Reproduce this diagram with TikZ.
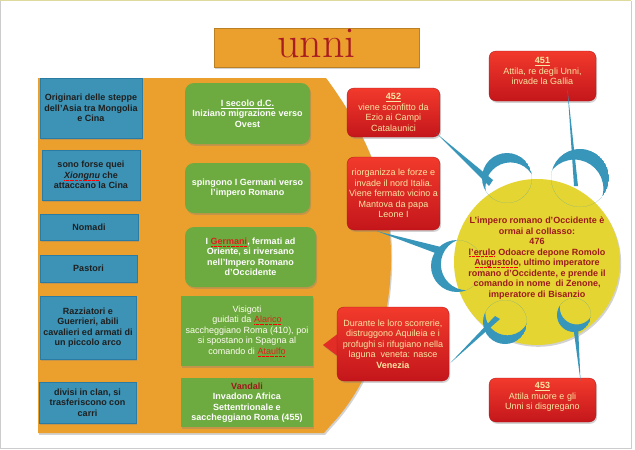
\documentclass[tikz,border=0pt]{standalone}
\usepackage{fontspec}
\newfontfamily\sansf{Liberation Sans}
\usetikzlibrary{shadows,calc}
\definecolor{orangeF}{HTML}{EBA02D}
\definecolor{blueF}{HTML}{3C93B5}
\definecolor{blueD}{HTML}{2A7CA5}
\definecolor{greenF}{HTML}{6DAA3F}
\definecolor{redT}{HTML}{F23A2C}
\definecolor{redB}{HTML}{C4161B}
\definecolor{redText}{HTML}{F8E7A2}
\definecolor{yellowF}{HTML}{E5D532}
\definecolor{tealC}{HTML}{3796B9}
\definecolor{titleRed}{HTML}{A81C22}
\definecolor{wordRed}{HTML}{D8231F}
\definecolor{darkRed}{HTML}{9C1A1C}
\newsavebox\sqbox
\newcommand\sq[1]{\sbox\sqbox{#1}\rlap{\textcolor{red}{\raisebox{-2pt}{\hbox to \wd\sqbox{\leaders\hbox to 1.3pt{\hss\rule{0.7pt}{0.7pt}\hss}\hfill}}}}\usebox\sqbox}
\newcommand\crescent[5]{\begin{scope}\clip (#1) circle (#2);\fill[tealC,even odd rule] (#1) circle (#2) ($(#1)+(#3:#5)$) circle (#4);\end{scope}}
\begin{document}
\begin{tikzpicture}[x=1pt,y=1pt,
 shad/.style={drop shadow={opacity=0.35,shadow xshift=1.2pt,shadow yshift=-1.8pt}},
 bluebox/.style={shad, draw=blueD, line width=0.5pt, fill=blueF, align=center, inner sep=0pt, font=\sansf\bfseries\fontsize{9}{10.5}\selectfont, text=black!88},
 greenbox/.style={shad, fill=greenF, align=center, inner sep=0pt, font=\sansf\bfseries\fontsize{9}{10.5}\selectfont, text=white},
 redbox/.style={shad, top color=redT, bottom color=redB, draw=redB!90!black, line width=0.3pt, rounded corners=7pt, align=center, inner sep=0pt, font=\sansf\fontsize{9}{10.6}\selectfont, text=redText},
 redtext/.style={align=center, inner sep=0pt, font=\sansf\fontsize{9}{10.4}\selectfont, text=redText},
]
\useasboundingbox (0,0) rectangle (635,-450);
\fill[white] (0,0) rectangle (635,-450);
\draw[gray!40, line width=0.8pt] (0.5,-0.5) -- (0.5,-448) -- (631,-448) -- (631,-0.5);
\draw[yellow!50!gray!60, line width=1pt] (0,-0.8) -- (631,-0.8);

% orange background
\path[fill=orangeF, shad] (38,-78) -- (326,-78) .. controls (372,-140) and (392,-200) .. (391,-262) .. controls (390,-330) and (366,-388) .. (331,-425) -- (324,-433) -- (38,-433) -- cycle;

% title
\node[shad, fill=orangeF, draw=orangeF!80!black, line width=0.4pt, minimum width=205, minimum height=39, inner sep=0pt] (title) at (316.5,-47.5) {};
\node[anchor=base, text=titleRed, font=\fontsize{44}{44}\selectfont, inner sep=0pt] (titletxt) at (316.5,-57) {unni};

% blue boxes
\node[bluebox, minimum width=102, minimum height=60] (b1) at (91,-108) {Originari delle steppe\\dell’Asia tra Mongolia\\e Cina};
\node[bluebox, minimum width=98, minimum height=50] (b2) at (91,-175) {sono forse quei\\\sq{\textit{Xiongnu}} che\\attaccano la Cina};
\node[bluebox, minimum width=98, minimum height=26] (b3) at (89,-227) {Nomadi};
\node[bluebox, minimum width=97, minimum height=27] (b4) at (88.5,-268.5) {Pastori};
\node[bluebox, minimum width=96, minimum height=63] (b5) at (88,-327.5) {Razziatori e\\Guerrieri, abili\\cavalieri ed armati di\\un piccolo arco};
\node[bluebox, minimum width=97, minimum height=41] (b6) at (87.5,-402.5) {divisi in clan, si\\trasferiscono con\\carri};

% green boxes
\node[greenbox, rounded corners=9pt, minimum width=125, minimum height=61] (g1) at (247.5,-113.5) {\underline{I secolo d.C.}\\Iniziano migrazione verso\\Ovest};
\node[greenbox, rounded corners=9pt, minimum width=125, minimum height=50] (g2) at (247.5,-188) {spingono I Germani verso\\l’impero Romano};
\node[greenbox, rounded corners=9pt, minimum width=131, minimum height=60] (g3) at (250.5,-257) {I \textcolor{wordRed}{\sq{Germani}}, fermati ad\\Oriente, si riversano\\nell’Impero Romano\\d’Occidente};
\node[greenbox, font=\sansf\fontsize{9}{10.5}\selectfont, text=white!95!yellow, minimum width=132, minimum height=70] (g4) at (247,-331) {Visigoti\\guidati da \textcolor{wordRed}{\sq{Alarico}}\\saccheggiano Roma (410), poi\\si spostano in Spagna al\\comando di \textcolor{wordRed}{\sq{Ataulfo}}};
\node[greenbox, minimum width=132, minimum height=49] (g5) at (247,-402.5) {\textcolor{darkRed}{Vandali}\\Invadono Africa\\Settentrionale e\\saccheggiano Roma (455)};

% crescent centres
\coordinate (c1) at (507,-178);
\coordinate (c2) at (580,-178);
\coordinate (c3) at (457,-266);
\coordinate (c4) at (505,-322);
\coordinate (c5) at (574,-315);

% red boxes
\node[redbox, minimum width=93, minimum height=49] (r452) at (393.5,-112.5) {\underline{\textbf{452}}\\viene sconfitto da\\Ezio ai Campi\\Catalaunici};
\node[redbox, minimum width=93, minimum height=73] (rrio) at (393.5,-193.5) {riorganizza le forze e\\invade il nord Italia.\\Viene fermato vicino a\\Mantova da papa\\Leone I};
\node[redbox, minimum width=107, minimum height=50] (r451) at (542.5,-76) {};
\node[redtext] (t451) at (542.5,-71) {\underline{\textbf{451}}\\Attila, re degli Unni,\\invade la Gallia};
\node[redbox, minimum width=107, minimum height=44] (r453) at (542.5,-400) {};
\node[redtext] (t453) at (542.5,-397) {\underline{\textbf{453}}\\Attila muore e gli\\Unni si disgregano};

% Durante box with pointer
\coordinate (dtip) at (323,-345);
\fill[shad, redB!35!redT] (337.5,-334) -- (dtip) -- (337.5,-356) -- cycle;
\node[redbox, minimum width=112, minimum height=74] (rdur) at (393,-344) {Durante le loro scorrerie,\\distruggono Aquileia e i\\profughi si rifugiano nella\\laguna\ \ veneta: nasce\\\textbf{Venezia}};

% yellow circle
\node[circle, fill=yellowF, minimum size=166, inner sep=0pt, shad] (circ) at (537,-262) {};

% spikes
\fill[tealC] ($(r452.south east)+(-4,4)$) -- ($(c1)+(-14,-2)$) -- ($(c1)+(-18,-8)$) -- cycle;
\fill[tealC] ($(r451.south)+(25,12)$) -- ($(c2)+(-6,-8)$) -- ($(c2)+(-2,-8)$) -- cycle;
\fill[tealC] ($(rrio.south west)+(30,-1)$) -- ($(c3)+(-16,19)$) -- ($(c3)+(-19,12)$) -- cycle;
\fill[tealC] ($(rdur.south east)+(1,18)$) -- ($(c4)+(-10,6)$) -- ($(c4)+(-5,3)$) -- cycle;
\fill[tealC] ($(r453.north)+(38,-3)$) -- ($(c5)+(-1,-10)$) -- ($(c5)+(4,-10)$) -- cycle;

% crescents
\crescent{c1}{25}{290}{25}{10}
\crescent{c2}{29}{242}{29}{12}
\crescent{c3}{26}{10}{26}{10}
\crescent{c4}{22}{75}{22}{9}
\crescent{c5}{17}{70}{17}{8}

% circle text
\node[align=center, inner sep=0pt, text=darkRed, font=\sansf\bfseries\fontsize{9}{10.5}\selectfont] (circtxt) at (537,-258) {L’impero romano d’Occidente è\\ormai al collasso:\\476\\\sq{l’erulo} Odoacre depone Romolo\\\sq{Augustolo}, ultimo imperatore\\romano d’Occidente, e prende il\\comando in nome\ \ di Zenone,\\imperatore di Bisanzio};
\end{tikzpicture}
\end{document}
